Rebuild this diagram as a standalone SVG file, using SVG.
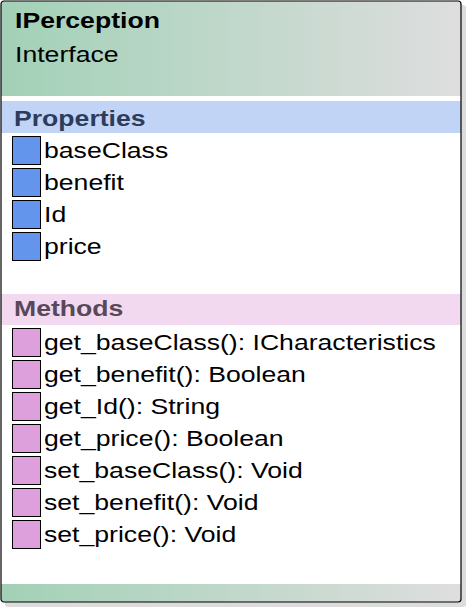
<svg xmlns="http://www.w3.org/2000/svg" width="467" height="608" viewBox="0 0 467 608">
  <defs>
    <linearGradient id="hdr" x1="0" y1="0" x2="1" y2="0">
      <stop offset="0" stop-color="#a2d1b7"/>
      <stop offset="1" stop-color="#dedede"/>
    </linearGradient>
    <clipPath id="boxClip">
      <rect x="1" y="1" width="460" height="601" rx="3" ry="3"/>
    </clipPath>
  </defs>
  <style>
    text { font-family: "Liberation Sans", Arial, sans-serif; font-size: 22px; fill: #000; }
    .title { font-weight: bold; }
    .sec-prop { font-weight: bold; fill: #2c3c5c; }
    .sec-meth { font-weight: bold; fill: #584858; }
    .prop { fill: #6495ed; stroke: #000; stroke-width: 1; }
    .meth { fill: #dda0dd; stroke: #000; stroke-width: 1; }
  </style>

  <g id="IPerception">
    <!-- drop shadow -->
    <rect x="5" y="5" width="461" height="602" rx="3" ry="3" fill="#dcdcdc"/>
    <!-- body -->
    <rect x="1" y="1" width="460" height="601" rx="3" ry="3" fill="#ffffff"/>
    <g clip-path="url(#boxClip)">
      <rect x="1" y="1" width="460" height="95" fill="url(#hdr)"/>
      <rect x="1" y="101" width="460" height="32" fill="#c2d4f5"/>
      <rect x="1" y="294" width="460" height="31" fill="#f2d9f0"/>
      <rect x="1" y="584" width="460" height="18" fill="url(#hdr)"/>
    </g>
    <rect x="1" y="1" width="460" height="601" rx="3" ry="3" fill="none" stroke="#000" stroke-width="1.2"/>

    <!-- header -->
    <text class="title" transform="translate(15 28) scale(1.21 1)">IPerception</text>
    <text transform="translate(15 61.5) scale(1.21 1)">Interface</text>

    <!-- properties -->
    <g id="properties">
      <text class="sec-prop" transform="translate(14 125.5) scale(1.21 1)">Properties</text>
      <rect class="prop" x="12.5" y="136.5" width="28" height="28"/>
      <text transform="translate(44 158) scale(1.21 1)">baseClass</text>
      <rect class="prop" x="12.5" y="168.5" width="28" height="28"/>
      <text transform="translate(44 190) scale(1.21 1)">benefit</text>
      <rect class="prop" x="12.5" y="200.5" width="28" height="28"/>
      <text transform="translate(44 222) scale(1.21 1)">Id</text>
      <rect class="prop" x="12.5" y="232.5" width="28" height="28"/>
      <text transform="translate(44 254) scale(1.21 1)">price</text>
    </g>

    <!-- methods -->
    <g id="methods">
      <text class="sec-meth" transform="translate(14 315.5) scale(1.21 1)">Methods</text>
      <rect class="meth" x="12.5" y="328.5" width="28" height="28"/>
      <text transform="translate(44 350) scale(1.21 1)">get_baseClass(): ICharacteristics</text>
      <rect class="meth" x="12.5" y="360.5" width="28" height="28"/>
      <text transform="translate(44 382) scale(1.21 1)">get_benefit(): Boolean</text>
      <rect class="meth" x="12.5" y="392.5" width="28" height="28"/>
      <text transform="translate(44 414) scale(1.21 1)">get_Id(): String</text>
      <rect class="meth" x="12.5" y="424.5" width="28" height="28"/>
      <text transform="translate(44 446) scale(1.21 1)">get_price(): Boolean</text>
      <rect class="meth" x="12.5" y="456.5" width="28" height="28"/>
      <text transform="translate(44 478) scale(1.21 1)">set_baseClass(): Void</text>
      <rect class="meth" x="12.5" y="488.5" width="28" height="28"/>
      <text transform="translate(44 510) scale(1.21 1)">set_benefit(): Void</text>
      <rect class="meth" x="12.5" y="520.5" width="28" height="28"/>
      <text transform="translate(44 542) scale(1.21 1)">set_price(): Void</text>
    </g>
  </g>
</svg>
